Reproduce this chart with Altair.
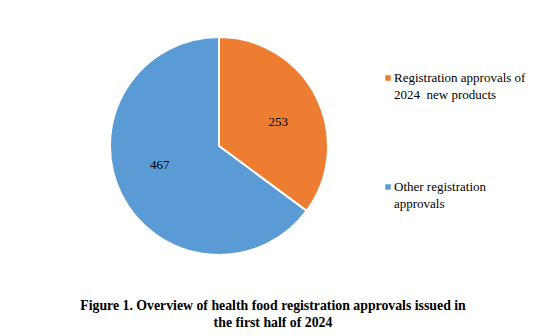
import altair as alt
import pandas as pd

categories = ["Registration approvals of 2024  new products", "Other registration approvals"]
legend_lines = [["Registration approvals of", "2024\u00a0\u00a0new products"], ["Other registration", "approvals"]]
values = [253, 467]
colors = ["#ED7D31", "#5B9BD5"]
title_lines = ["Figure 1. Overview of health food registration approvals issued in", "the first half of 2024"]

df = pd.DataFrame({"cat": categories, "value": values, "order": [0, 1]})
color_scale = alt.Scale(domain=categories, range=colors)

base = alt.Chart(df).encode(
    theta=alt.Theta("value:Q", stack=True),
    order=alt.Order("order:Q"),
)

arcs = base.mark_arc(outerRadius=109, stroke="white", strokeWidth=2).encode(
    x=alt.value(219), y=alt.value(146),
    color=alt.Color("cat:N", scale=color_scale, legend=None),
)

lab_common = dict(radius=64, font="Liberation Serif", fontSize=13, color="black")
label_a = base.mark_text(dx=2, dy=5, **lab_common).encode(
    x=alt.value(219), y=alt.value(146), text=alt.Text("value:Q"),
    opacity=alt.condition(alt.datum.order == 0, alt.value(1), alt.value(0)),
)
label_b = base.mark_text(dx=-2, dy=-10, **lab_common).encode(
    x=alt.value(219), y=alt.value(146), text=alt.Text("value:Q"),
    opacity=alt.condition(alt.datum.order == 1, alt.value(1), alt.value(0)),
)

leg_df = pd.DataFrame({"cat": categories, "label": legend_lines, "idx": [0, 1]})
ysc = alt.Scale(domain=[0, 1], range=[78, 187])
leg_sq = alt.Chart(leg_df).mark_square(size=30, opacity=1).encode(
    x=alt.value(388),
    y=alt.Y("idx:Q", scale=ysc, axis=None),
    color=alt.Color("cat:N", scale=color_scale, legend=None),
)
leg_txt = alt.Chart(leg_df).mark_text(
    align="left", baseline="middle", font="Liberation Serif", fontSize=13,
    lineHeight=17, color="black",
).encode(
    x=alt.value(394),
    y=alt.Y("idx:Q", scale=ysc, axis=None),
    text="label",
)

title_df = pd.DataFrame({"t": [title_lines]})
title = alt.Chart(title_df).mark_text(
    align="center", baseline="top", font="Liberation Serif", fontSize=13.8,
    fontWeight="bold", lineHeight=17, color="black",
).encode(x=alt.value(273), y=alt.value(299), text="t")

chart = alt.layer(arcs, label_a, label_b, leg_sq, leg_txt, title).properties(
    width=544, height=336, padding=0, autosize=alt.AutoSizeParams(type="none"),
).configure_view(stroke=None).resolve_scale(y="independent")

chart.save("out.html", embed_options={"renderer": "svg", "actions": False})
